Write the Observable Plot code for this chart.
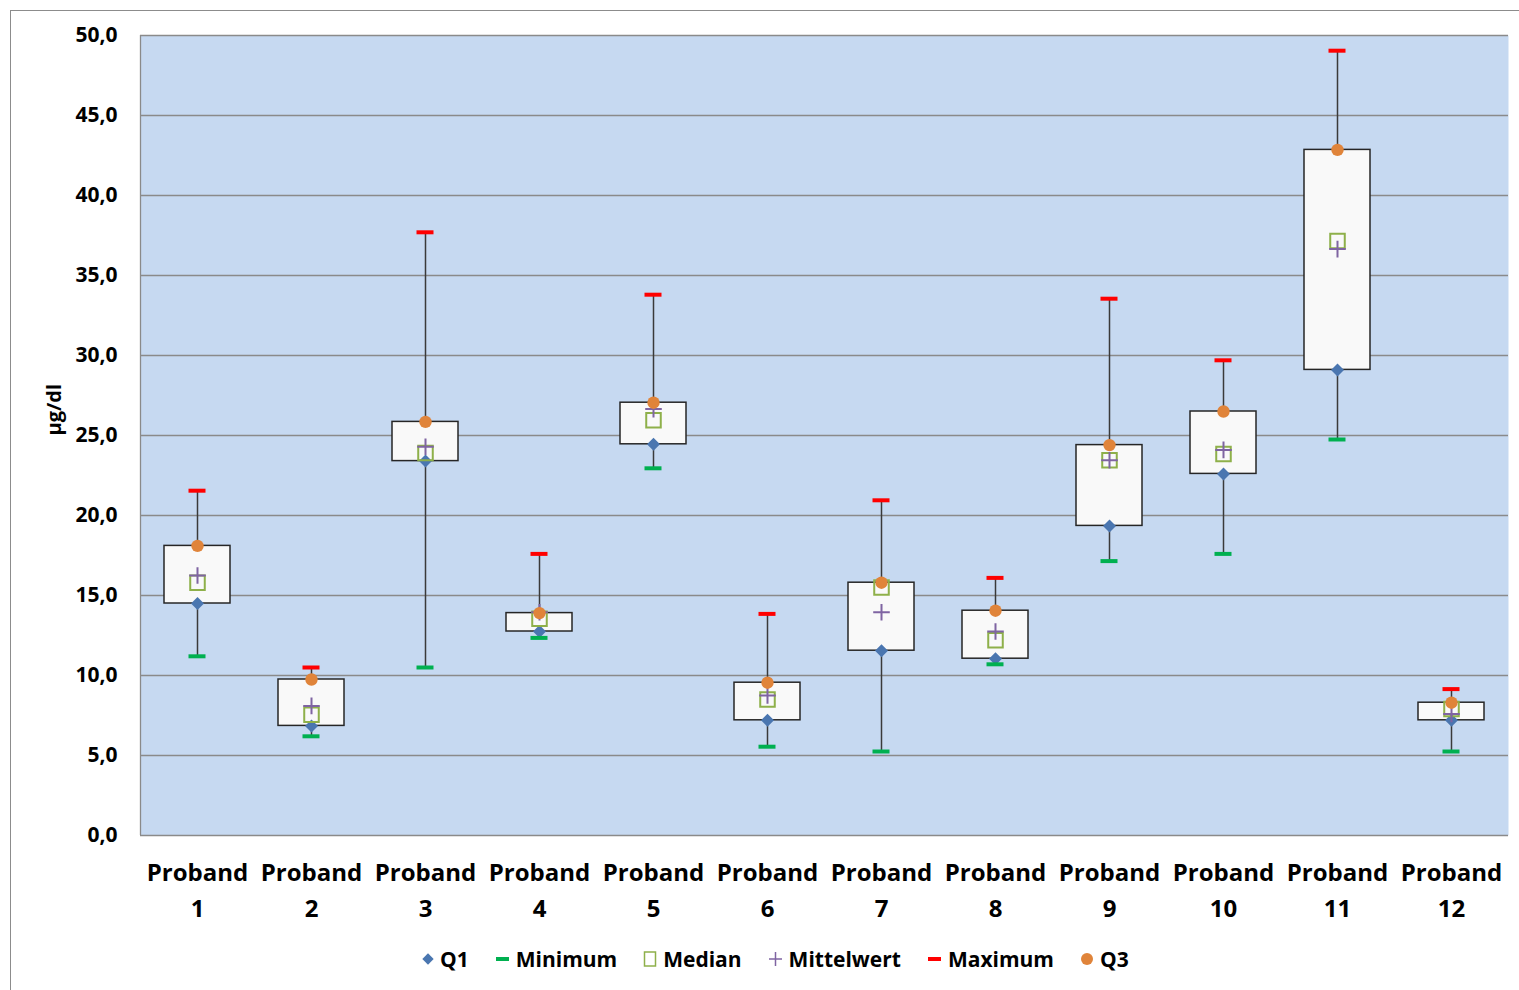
<!DOCTYPE html>
<html>
<head>
<meta charset="utf-8">
<script src="https://cdn.jsdelivr.net/npm/d3@7"></script>
<script src="https://cdn.jsdelivr.net/npm/@observablehq/plot@0.6"></script>
<style>
  html, body { margin: 0; padding: 0; background: #fff; }
  body { width: 1519px; height: 990px; position: relative; overflow: hidden; font-family: "Open Sans", Lato, sans-serif; }
  #frame { position: absolute; left: 10px; top: 10px; width: 1600px; height: 1100px; border: 1px solid #8c8c8c; box-sizing: border-box; }
  #chart { position: absolute; left: 0; top: 0; }
  #legend { position: absolute; left: 422px; top: 945px; display: flex; align-items: center; font-weight: bold; font-size: 21px; color: #000; white-space: nowrap; }
  #legend .item { display: flex; align-items: center; margin-right: 26px; }
  #legend svg { margin-right: 6px; }
</style>
</head>
<body>
<div id="frame"></div>
<div id="chart"></div>
<div id="legend"></div>
<script>
const probands = ["Proband 1","Proband 2","Proband 3","Proband 4","Proband 5","Proband 6","Proband 7","Proband 8","Proband 9","Proband 10","Proband 11","Proband 12"];
const q1      = [14.5, 6.85, 23.4, 12.75, 24.45, 7.2, 11.55, 11.05, 19.35, 22.6, 29.1, 7.2];
const minimum = [11.2, 6.2, 10.5, 12.35, 22.95, 5.55, 5.25, 10.7, 17.15, 17.6, 24.75, 5.25];
const median  = [15.8, 7.55, 23.9, 13.55, 25.95, 8.5, 15.5, 12.2, 23.45, 23.85, 37.15, 7.9];
const mean    = [16.25, 8.1, 24.3, 13.95, 26.65, 8.75, 13.95, 12.75, 23.45, 24.1, 36.65, 7.6];
const maximum = [21.55, 10.5, 37.7, 17.6, 33.8, 13.85, 20.95, 16.1, 33.55, 29.7, 49.05, 9.15];
const q3      = [18.1, 9.75, 25.85, 13.9, 27.05, 9.55, 15.8, 14.05, 24.4, 26.5, 42.85, 8.3];
const yTicks  = [0, 5, 10, 15, 20, 25, 30, 35, 40, 45, 50];

const data = probands.map((p, i) => ({p, q1: q1[i], min: minimum[i], median: median[i], mean: mean[i], max: maximum[i], q3: q3[i]}));

const C = {q1: "#4A76B0", min: "#00B050", median: "#8EB04A", mean: "#7F64A2", max: "#FF0000", q3: "#E0843A"};
const FONT = "'Open Sans', Lato, sans-serif";

const plot = Plot.plot({
  width: 1519,
  height: 930,
  marginLeft: 140,
  marginRight: 11,
  marginTop: 35,
  marginBottom: 95,
  style: {fontFamily: FONT, fontWeight: "bold", color: "#000", background: "transparent", overflow: "visible"},
  x: {domain: probands, padding: 0, label: null},
  y: {domain: [0, 50], label: null},
  marks: [
    Plot.frame({fill: "#C6D9F1", stroke: null}),
    Plot.gridY(yTicks, {stroke: "#8a8a8a", strokeOpacity: 1, strokeWidth: 1.3}),
    Plot.ruleX([0], {stroke: "#8a8a8a", strokeWidth: 1.3, x: () => probands[0], dx: -57}),
    Plot.axisY({ticks: yTicks, tickSize: 0, tickPadding: 23, tickFormat: d => d.toFixed(1).replace(".", ","), fontSize: 21, fontWeight: "bold", label: null}),
    Plot.axisX({tickSize: 0, tickPadding: 20, tickFormat: d => d.replace(" ", "\n"), fontSize: 24, fontWeight: "bold", lineHeight: 1.5, label: null}),
    Plot.text(["µg/dl"], {frameAnchor: "left", rotate: -90, dx: -86, fontSize: 20, fontWeight: "bold", fill: "#000"}),
    Plot.ruleX(data, {x: "p", y1: "min", y2: "max", stroke: "#3a3a3a", strokeWidth: 1.5}),
    Plot.barY(data, {x: "p", y1: "q1", y2: "q3", fill: "#F9F9F9", stroke: "#262626", strokeWidth: 1.5, insetLeft: 24, insetRight: 24}),
    Plot.dot(data, {x: "p", y: "q1", symbol: "square", r: 5.2, rotate: 45, fill: C.q1, stroke: null}),
    Plot.tickY(data, {x: "p", y: "min", stroke: C.min, strokeWidth: 4, insetLeft: 48.5, insetRight: 48.5}),
    Plot.dot(data, {x: "p", y: "median", symbol: "square", r: 8.2, fill: "none", stroke: C.median, strokeWidth: 2}),
    Plot.dot(data, {x: "p", y: "mean", symbol: "plus", r: 5.4, fill: "none", stroke: C.mean, strokeWidth: 2}),
    Plot.tickY(data, {x: "p", y: "max", stroke: C.max, strokeWidth: 4, insetLeft: 48.5, insetRight: 48.5}),
    Plot.dot(data, {x: "p", y: "q3", symbol: "circle", r: 6.2, fill: C.q3, stroke: null})
  ]
});
document.getElementById("chart").appendChild(plot);

const legendItems = [
  {label: "Q1", icon: `<svg width="12" height="14"><rect x="2" y="3" width="8" height="8" fill="${C.q1}" transform="rotate(45 6 7)"/></svg>`},
  {label: "Minimum", icon: `<svg width="15" height="14"><rect x="1" y="5" width="13" height="4" fill="${C.min}"/></svg>`},
  {label: "Median", icon: `<svg width="14" height="18"><rect x="1.5" y="2" width="11" height="14" fill="none" stroke="${C.median}" stroke-width="1.5"/></svg>`},
  {label: "Mittelwert", icon: `<svg width="15" height="18"><path d="M7.5 2V16M1 9H14" stroke="${C.mean}" stroke-width="1.5"/></svg>`},
  {label: "Maximum", icon: `<svg width="15" height="14"><rect x="1" y="5" width="13" height="4" fill="${C.max}"/></svg>`},
  {label: "Q3", icon: `<svg width="14" height="14"><circle cx="7" cy="7" r="6" fill="${C.q3}"/></svg>`}
];
document.getElementById("legend").innerHTML = legendItems.map(d => `<div class="item">${d.icon}<span>${d.label}</span></div>`).join("");
</script>
</body>
</html>
